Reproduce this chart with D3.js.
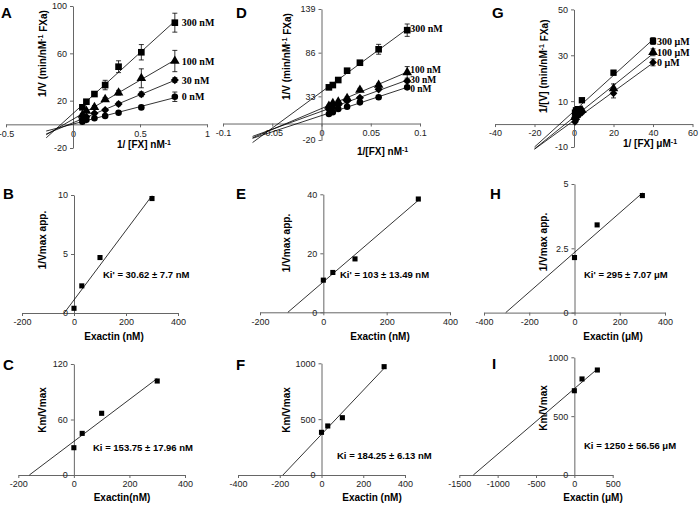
<!DOCTYPE html>
<html><head><meta charset="utf-8">
<script src="https://cdn.jsdelivr.net/npm/d3@7"></script>
<style>body{margin:0;background:#fff} text{font-family:Arial,"Liberation Sans",sans-serif}</style>
</head><body><svg id="c" width="700" height="506"></svg>
<script>
// ---------------- DATA ----------------
// Panel A (Lineweaver-Burk, nM)
const xA = [0.07, 0.1, 0.16, 0.24, 0.34, 0.51, 0.76];
const A_300 = [14.4, 19.1, 25.6, 33.2, 48.7, 60.9, 85.9];
const A_300e = [1, 1, 1.5, 4, 5, 6.5, 8];
const A_100 = [7.9, 11.2, 14.4, 21.1, 26.7, 38.9, 53.5];
const A_100e = [1, 1, 1.5, 1.5, 2, 8, 9];
const A_30 = [4.5, 6.4, 9.3, 12.1, 17.2, 25.4, 37.4];
const A_30e = [0.5, 0.5, 1, 1, 1.5, 2, 2];
const A_0 = [2.2, 3.8, 5.2, 7, 9.8, 14.3, 23.3];
const A_0e = [0.5, 0.5, 0.5, 1, 1, 1.5, 4];
const A_labels = ["300 nM", "100 nM", "30 nM", "0 nM"];
// Panel D
const xD = [0.0075, 0.0115, 0.017, 0.026, 0.039, 0.058, 0.087];
const D_300 = [43.9, 46.7, 52.8, 64.1, 73.8, 90.1, 113.3];
const D_300e = [1, 1, 1.5, 2, 2, 6, 7.5];
const D_100 = [21.2, 24.5, 26.5, 30.6, 40.7, 46.7, 62.1];
const D_100e = [1, 1, 1, 1.5, 2, 2, 7];
const D_30 = [17.2, 19.2, 22.5, 27.3, 31.3, 41.5, 51.6];
const D_30e = [1, 1, 1, 1, 1.5, 1.5, 2];
const D_0 = [11.5, 13.6, 17.6, 20.4, 25.7, 31.8, 43.9];
const D_0e = [1, 1, 1, 1, 1.5, 2, 2];
const D_labels = ["300 nM", "100 nM", "30 nM", "0 nM"];
// Panel G (µM)
const xG = [0.5, 1, 2, 4, 20, 40];
const G_300 = [5, 6, 6.5, 10.4, 22.4, 36.2];
const G_300e = [0.5, 0.5, 0.5, 0.5, 1, 1.5];
const G_100 = [3, 4, 5, 6, 15.5, 31.3];
const G_100e = [0.5, 0.5, 0.5, 0.5, 2, 1.5];
const G_0 = [1, 2, 3.5, 5, 13.4, 26.9];
const G_0e = [0.5, 0.5, 0.5, 0.5, 2, 1.5];
const G_labels = ["300 μM", "100 μM", "0 μM"];
// Secondary plots
const exactinNM = [0, 30, 100, 300];
const exactinUM = [0, 100, 300];
const B_vals = [0.4, 2.3, 4.7, 9.7];
const E_vals = [10.9, 13.5, 18.1, 38.4];
const H_vals = [2.14, 3.41, 4.55];
const C_vals = [29.5, 45, 66.7, 101.6];
const F_vals = [382, 439, 513, 970];
const I_vals = [716, 816, 892];
const kiTexts = ["Ki' = 30.62 ± 7.7 nM", "Ki' = 103 ± 13.49 nM", "Ki' = 295 ± 7.07 μM",
                 "Ki = 153.75 ± 17.96 nM", "Ki = 184.25 ± 6.13 nM", "Ki = 1250 ± 56.56 μM"];
// Ticks
const ticksX_A = [-0.5, 0, 0.5, 1], ticksY_A = [-20, 20, 60, 100];
const ticksX_D = [-0.1, -0.05, 0, 0.05, 0.1], ticksY_D = [-20, 33, 86, 139];
const ticksX_G = [-40, -20, 0, 20, 40, 60], ticksY_G = [-10, 10, 30, 50];
const ticksX_B = [-200, 0, 200, 400], ticksY_B = [0, 5, 10];
const ticksX_E = [-200, 0, 200, 400], ticksY_E = [0, 20, 40];
const ticksX_H = [-400, -200, 0, 200, 400], ticksY_H = [0, 2.5, 5];
const ticksX_C = [-200, 0, 200, 400], ticksY_C = [0, 60, 120];
const ticksX_F = [-400, -200, 0, 200, 400], ticksY_F = [0, 500, 1000];
const ticksX_I = [-1500, -1000, -500, 0, 500], ticksY_I = [0, 500, 1000];
// fit extensions (backward forecast) for LB plots
const fitFromA = -0.2, fitFromD = -0.07, fitFromG = -20;

// ---------------- DRAWING ----------------
const svg = d3.select("#c");
const AX = "#666", TX = "#222";

function fit(xs, ys) {
  const mx = d3.mean(xs), my = d3.mean(ys);
  let sxy = 0, sxx = 0;
  xs.forEach((x, i) => { sxy += (x - mx) * (ys[i] - my); sxx += (x - mx) * (x - mx); });
  const m = sxy / sxx; return { m, b: my - m * mx };
}
function fmt(v) { return String(v); }

function axes(x, y, tx, ty) {
  const g = svg.append("g");
  const xa = g.append("g").attr("transform", `translate(0,${y(0)})`)
    .call(d3.axisBottom(x).tickValues(tx).tickSize(3).tickSizeOuter(0).tickFormat(fmt));
  const ya = g.append("g").attr("transform", `translate(${x(0)},0)`)
    .call(d3.axisLeft(y).tickValues(ty).tickSize(3).tickSizeOuter(0).tickFormat(fmt));
  [xa, ya].forEach(a => {
    a.select(".domain").attr("stroke", AX);
    a.selectAll(".tick line").attr("stroke", AX);
    a.selectAll("text").attr("fill", TX).style("font-size", "9px").style("font-family", "Arial, 'Liberation Sans'");
  });
}
function sym(type, size) {
  if (type === "diamond") return d3.symbol().type(d3.symbolSquare).size(size * 0.75)();
  const t = { square: d3.symbolSquare, triangle: d3.symbolTriangle, circle: d3.symbolCircle }[type];
  return d3.symbol().type(t).size(size)();
}
function series(x, y, xs, ys, es, type, size, from, to) {
  const f = fit(xs, ys);
  svg.append("line").attr("x1", x(from)).attr("y1", y(f.m * from + f.b))
    .attr("x2", x(to)).attr("y2", y(f.m * to + f.b)).attr("stroke", "#000").attr("stroke-width", 0.8);
  if (es) xs.forEach((v, i) => {
    const cx = x(v), y1 = y(ys[i] - es[i]), y2 = y(ys[i] + es[i]);
    svg.append("line").attr("x1", cx).attr("x2", cx).attr("y1", y1).attr("y2", y2).attr("stroke", "#000").attr("stroke-width", 0.8);
    [y1, y2].forEach(yy => svg.append("line").attr("x1", cx - 2.5).attr("x2", cx + 2.5).attr("y1", yy).attr("y2", yy).attr("stroke", "#000").attr("stroke-width", 0.8));
  });
  xs.forEach((v, i) => {
    svg.append("path").attr("d", sym(type, size))
      .attr("transform", `translate(${x(v)},${y(ys[i])})` + (type === "diamond" ? " rotate(45)" : ""))
      .attr("fill", "#000");
  });
  return f;
}
function txt(s, px, py, opts = {}) {
  const t = svg.append("text").attr("x", px).attr("y", py)
    .attr("text-anchor", opts.anchor || "start").attr("fill", opts.fill || "#000")
    .style("font-size", (opts.size || 10) + "px").style("font-weight", opts.weight || "bold")
    .style("font-family", opts.family || "Arial, 'Liberation Sans'");
  if (opts.rot) t.attr("transform", `rotate(-90,${px},${py})`);
  if (opts.sup) {
    t.append("tspan").text(s);
    t.append("tspan").text(opts.sup).attr("dy", "-0.4em").style("font-size", "0.7em");
    if (opts.after) t.append("tspan").text(opts.after).attr("dy", "0.4em");
  } else t.text(s);
  return t;
}
function vlabel(s, px, py, size) { txt(s, px, py, { family: "'Liberation Serif','Times New Roman',serif", size: size || 10 }); }

// ---- Panel A ----
{
  const x = d3.scaleLinear().domain([-0.5, 1]).range([6, 207]);
  const y = d3.scaleLinear().domain([-20, 100]).range([148, 6]);
  axes(x, y, ticksX_A, ticksY_A);
  const S = [[A_300, A_300e, "square", 44], [A_100, A_100e, "triangle", 40], [A_30, A_30e, "diamond", 44], [A_0, A_0e, "circle", 34]];
  S.forEach(s => series(x, y, xA, s[0], s[1], s[2], s[3], fitFromA, d3.max(xA)));
  const xl = x(d3.max(xA)) + 7;
  S.forEach((s, i) => vlabel(A_labels[i], xl, y(s[0][s[0].length - 1]) + 3.5));
  txt("A", 1, 18, { size: 15 });
  txt("1/V (min/nM", 46, 97, { rot: true, sup: "-1", after: " FXa)", size: 10 });
  txt("1/ [FX] nM", 117, 148, { sup: "-1", size: 10 });
}
// ---- Panel D ----
{
  const x = d3.scaleLinear().domain([-0.1, 0.1]).range([223, 420]);
  const y = d3.scaleLinear().domain([-20, 139]).range([140, 9]);
  axes(x, y, ticksX_D, ticksY_D);
  const S = [[D_300, D_300e, "square", 44], [D_100, D_100e, "triangle", 40], [D_30, D_30e, "diamond", 44], [D_0, D_0e, "circle", 34]];
  S.forEach(s => series(x, y, xD, s[0], s[1], s[2], s[3], fitFromD, d3.max(xD)));
  const xl = x(d3.max(xD)) + 3;
  const ly = [29, 70, 79.5, 88.5];
  S.forEach((s, i) => vlabel(D_labels[i], xl, ly[i] + 3.3, i === 0 ? 10 : 9.5));
  txt("D", 236, 18, { size: 15 });
  txt("1/V (min/nM", 290, 100, { rot: true, sup: "-1", after: " FXa)", size: 10 });
  txt("1/[FX] nM", 357, 155, { sup: "-1", size: 10 });
}
// ---- Panel G ----
{
  const x = d3.scaleLinear().domain([-40, 60]).range([495, 692.5]);
  const y = d3.scaleLinear().domain([-10, 50]).range([147, 9.4]);
  axes(x, y, ticksX_G, ticksY_G);
  const S = [[G_300, G_300e, "square", 40], [G_100, G_100e, "triangle", 40], [G_0, G_0e, "diamond", 40]];
  S.forEach(s => series(x, y, xG, s[0], s[1], s[2], s[3], fitFromG, d3.max(xG)));
  const xl = x(d3.max(xG)) + 4;
  S.forEach((s, i) => vlabel(G_labels[i], xl, y(s[0][s[0].length - 1]) + 3.5));
  txt("G", 492, 18, { size: 15 });
  txt("1/[V] (min/nM", 547, 113, { rot: true, sup: "-1", after: " FXa)", size: 10 });
  txt("1/ [FX] μM", 623, 147, { sup: "-1", size: 10 });
}
// ---- secondary plots ----
function secondary(cfg) {
  const x = d3.scaleLinear().domain(cfg.xd).range(cfg.xr);
  const y = d3.scaleLinear().domain(cfg.yd).range(cfg.yr);
  axes(x, y, cfg.tx, cfg.ty);
  const f = fit(cfg.xs, cfg.ys);
  const x0 = -f.b / f.m;
  series(x, y, cfg.xs, cfg.ys, null, "square", 26, x0, d3.max(cfg.xs));
  txt(cfg.letter, cfg.lp[0], cfg.lp[1], { size: 15 });
  txt(cfg.ytitle, cfg.yt[0], cfg.yt[1], { rot: true, size: 10, anchor: "middle" });
  txt(cfg.xtitle, cfg.xt[0], cfg.xt[1], { size: 10, anchor: "middle" });
  txt(cfg.ki, cfg.kp[0], cfg.kp[1], { size: 9.5 });
}
secondary({ xd: [-200, 400], xr: [22, 178], yd: [0, 10], yr: [313, 195], tx: ticksX_B, ty: ticksY_B,
  xs: exactinNM, ys: B_vals, letter: "B", lp: [3, 199], ytitle: "1/Vmax app.", yt: [46, 240],
  xtitle: "Exactin (nM)", xt: [114, 340], ki: kiTexts[0], kp: [103, 278] });
secondary({ xd: [-200, 400], xr: [260, 450], yd: [0, 40], yr: [312.3, 194.3], tx: ticksX_E, ty: ticksY_E,
  xs: exactinNM, ys: E_vals, letter: "E", lp: [236, 199], ytitle: "1/Vmax app.", yt: [290, 243],
  xtitle: "Exactin (nM)", xt: [380, 340], ki: kiTexts[1], kp: [340, 278] });
secondary({ xd: [-400, 400], xr: [484, 665], yd: [0, 5], yr: [312.6, 184], tx: ticksX_H, ty: ticksY_H,
  xs: exactinUM, ys: H_vals, letter: "H", lp: [490, 199], ytitle: "1/Vmax app.", yt: [547, 242],
  xtitle: "Exactin (μM)", xt: [613, 340], ki: kiTexts[2], kp: [584, 278] });
secondary({ xd: [-200, 400], xr: [18.3, 185], yd: [0, 120], yr: [475, 364], tx: ticksX_C, ty: ticksY_C,
  xs: exactinNM, ys: C_vals, letter: "C", lp: [3, 370], ytitle: "Km/Vmax", yt: [46, 410],
  xtitle: "Exactin(nM)", xt: [122, 501], ki: kiTexts[3], kp: [93, 451] });
secondary({ xd: [-400, 400], xr: [238, 405], yd: [0, 1000], yr: [475, 363.3], tx: ticksX_F, ty: ticksY_F,
  xs: exactinNM, ys: F_vals, letter: "F", lp: [236, 370], ytitle: "Km/Vmax", yt: [290, 410],
  xtitle: "Exactin (nM)", xt: [372, 501], ki: kiTexts[4], kp: [337, 459] });
secondary({ xd: [-1500, 500], xr: [459.3, 612.7], yd: [0, 1000], yr: [475, 357.3], tx: ticksX_I, ty: ticksY_I,
  xs: exactinUM, ys: I_vals, letter: "I", lp: [492, 369], ytitle: "Km/Vmax", yt: [547, 408],
  xtitle: "Exactin (μM)", xt: [593, 501], ki: kiTexts[5], kp: [584, 449] });
</script></body></html>
